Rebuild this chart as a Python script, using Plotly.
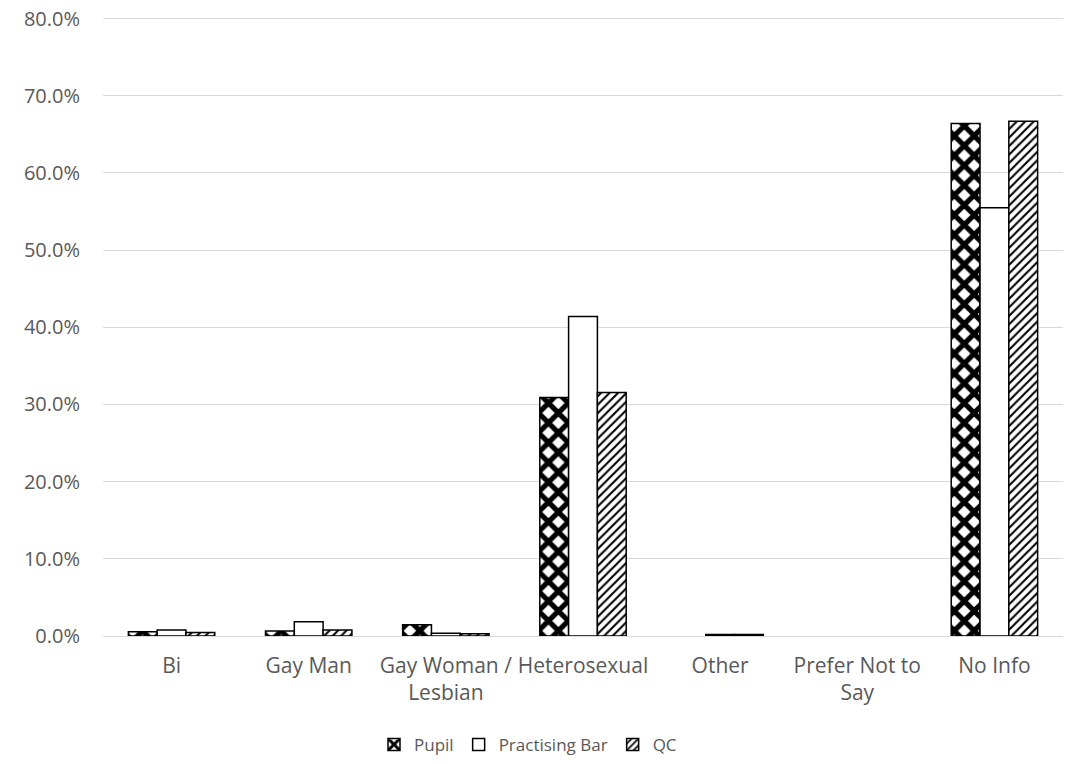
import plotly.graph_objects as go

categories = ["Bi", "Gay Man", "Gay Woman /<br>Lesbian", "Heterosexual", "Other",
              "Prefer Not to<br>Say", "No Info"]
pupil = [0.0055, 0.0065, 0.0147, 0.309, 0.0, 0.0, 0.664]
practising_bar = [0.0078, 0.0185, 0.0035, 0.414, 0.002, 0.0, 0.555]
qc = [0.0045, 0.0078, 0.003, 0.3155, 0.002, 0.0, 0.667]
y_ticks = [0, 0.1, 0.2, 0.3, 0.4, 0.5, 0.6, 0.7, 0.8]

TXT = "#595959"
FONT = "Open Sans"


def shown(vals):
    # zero-height bars are not drawn (no outline), as in the original
    return [v if v > 0 else None for v in vals]


fig = go.Figure()
fig.add_trace(go.Bar(
    name="Pupil", x=categories, y=shown(pupil),
    marker=dict(color="white", line=dict(color="black", width=1.5),
                pattern=dict(shape="x", size=14, solidity=0.6, fgcolor="black",
                             bgcolor="white", fillmode="replace")),
))
fig.add_trace(go.Bar(
    name="Practising Bar", x=categories, y=shown(practising_bar),
    marker=dict(color="white", line=dict(color="black", width=1.5)),
))
fig.add_trace(go.Bar(
    name="QC", x=categories, y=shown(qc),
    marker=dict(color="white", line=dict(color="black", width=1.5),
                pattern=dict(shape="/", size=6, solidity=0.35, fgcolor="black",
                             bgcolor="white", fillmode="replace")),
))

fig.update_layout(
    width=1071, height=764,
    paper_bgcolor="white", plot_bgcolor="white",
    margin=dict(l=103, r=8, t=17, b=128, autoexpand=False),
    barmode="group", bargap=0.37, bargroupgap=0,
    font=dict(family=FONT, size=19, color=TXT),
    showlegend=True,
    legend=dict(orientation="h", xref="container", x=0.493, xanchor="center",
                yref="container", y=0.025, yanchor="middle",
                font=dict(family=FONT, size=17, color=TXT),
                itemwidth=30, traceorder="normal"),
    xaxis=dict(showgrid=False, showline=False, ticks="", tickfont=dict(size=21, color=TXT),
               ticklabelstandoff=15, automargin=False),
    yaxis=dict(range=[0, 0.802], tickvals=y_ticks, tickformat=".1%",
               showgrid=True, gridcolor="#d9d9d9", gridwidth=1,
               zeroline=True, zerolinecolor="#d9d9d9", zerolinewidth=1,
               showline=False, ticks="", tickfont=dict(size=20, color=TXT),
               ticklabelstandoff=22, ticklabeloverflow="allow", automargin=False),
)

fig.write_html("out.html", config={"displayModeBar": False},
               post_script="document.body.style.margin='0';")
